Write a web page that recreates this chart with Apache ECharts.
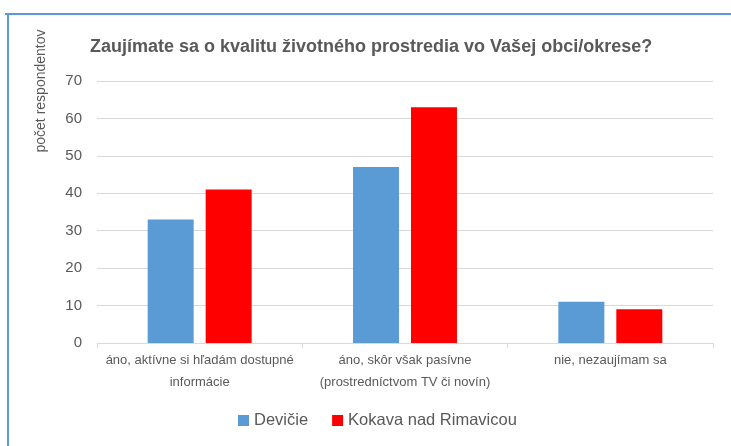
<!DOCTYPE html>
<html>
<head>
<meta charset="utf-8">
<script src="https://cdn.jsdelivr.net/npm/echarts@6/dist/echarts.min.js"></script>
<style>
  html, body { margin: 0; padding: 0; background: #fff; }
  #chart { width: 731px; height: 446px; }
</style>
</head>
<body>
<div id="chart"></div>
<script>
// survey answers
var categories = [
  'áno, aktívne si hľadám dostupné\ninformácie',
  'áno, skôr však pasívne\n(prostredníctvom TV či novín)',
  'nie, nezaujímam sa'
];
var devicie = [33, 47, 11];
var kokava = [41, 63, 9];
var seriesNames = ['Devičie', 'Kokava nad Rimavicou'];

var chart = echarts.init(document.getElementById('chart'));
var font = 'Liberation Sans, Arial, sans-serif';

chart.setOption({
  animation: false,
  textStyle: { fontFamily: font },
  title: {
    text: 'Zaujímate sa o kvalitu životného prostredia vo Vašej obci/okrese?',
    left: 85,
    top: 33,
    textStyle: { fontSize: 18, fontWeight: 'bold', color: '#595959', fontFamily: font }
  },
  legend: {
    bottom: 12,
    left: 233,
    itemWidth: 11,
    itemHeight: 11,
    itemGap: 24,
    icon: 'rect',
    textStyle: { fontSize: 16.5, color: '#595959', fontFamily: font },
    data: seriesNames
  },
  grid: { left: 97, right: 18, top: 81, bottom: 103 },
  xAxis: {
    type: 'category',
    data: categories,
    axisLine: { lineStyle: { color: '#d9d9d9' } },
    axisTick: { show: true, length: 5, lineStyle: { color: '#d9d9d9' } },
    axisLabel: { fontSize: 13, color: '#595959', lineHeight: 22, margin: 6, interval: 0 }
  },
  yAxis: {
    type: 'value',
    min: 0,
    max: 70,
    interval: 10,
    name: 'počet respondentov',
    nameLocation: 'end',
    nameRotate: 90,
    nameGap: 0,
    nameTextStyle: { fontSize: 14, color: '#595959', align: 'center', verticalAlign: 'bottom', padding: [0, 20, 49, 0] },
    axisLine: { show: false },
    axisTick: { show: false },
    axisLabel: { fontSize: 15, color: '#595959', margin: 15 },
    splitLine: { lineStyle: { color: '#d9d9d9' } }
  },
  series: [
    { name: seriesNames[0], type: 'bar', data: devicie, barWidth: 46, barGap: '26%', itemStyle: { color: '#5b9bd5' } },
    { name: seriesNames[1], type: 'bar', data: kokava, barWidth: 46, itemStyle: { color: '#ff0000' } }
  ],
  graphic: [
    { type: 'line', shape: { x1: 5, y1: 14, x2: 731, y2: 14 }, style: { stroke: '#5b9bd5', lineWidth: 2 } },
    { type: 'line', shape: { x1: 8, y1: 14, x2: 8, y2: 446 }, style: { stroke: '#5b9bd5', lineWidth: 2 } }
  ]
});
</script>
</body>
</html>
